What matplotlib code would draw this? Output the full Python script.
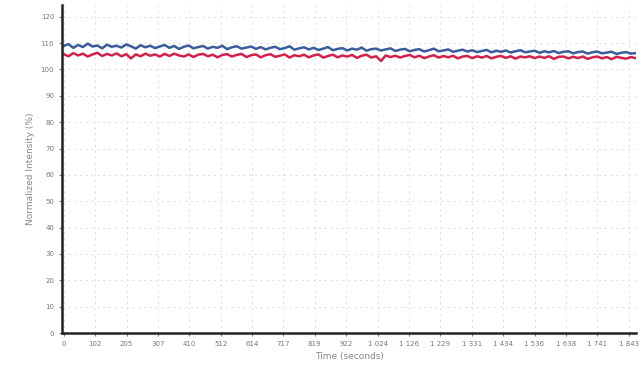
import numpy as np
import matplotlib
matplotlib.use("Agg")
import matplotlib.pyplot as plt

# readings of the two traces (left to right)
blue_vals = [
    108.9, 109.6, 108.2, 109.3, 108.5, 109.8, 108.7, 109.1, 108.0, 109.4,
    108.6, 109.0, 108.3, 109.5, 108.8, 107.9, 109.2, 108.4, 109.0, 108.1,
    108.7, 109.3, 108.2, 108.9, 107.8, 108.6, 109.1, 108.0, 108.5, 108.9,
    107.9, 108.6, 108.2, 109.0, 107.7, 108.4, 108.8, 107.9, 108.3, 108.7,
    107.8, 108.5, 107.6, 108.2, 108.6, 107.7, 108.1, 108.8, 107.5, 108.0,
    108.4, 107.6, 108.2, 107.4, 107.9, 108.5, 107.3, 107.8, 108.1, 107.2,
    107.9, 107.5, 108.3, 107.1, 107.7, 107.9, 107.2, 107.6, 108.0, 107.0,
    107.5, 107.8, 106.9, 107.4, 107.7, 106.8, 107.3, 107.9, 106.9, 107.2,
    107.6, 106.7, 107.1, 107.5, 106.8, 107.3, 106.6, 107.0, 107.4, 106.5,
    107.1, 106.7, 107.2, 106.4, 106.9, 107.3, 106.5, 106.8, 107.1, 106.3,
    106.9, 106.5, 107.0, 106.2, 106.7, 106.9, 106.1, 106.6, 106.8, 106.0,
    106.5, 106.8, 106.1, 106.4, 106.7, 105.9, 106.3, 106.6, 106.0, 106.2]

red_vals = [
    105.8, 105.0, 106.2, 105.3, 106.0, 104.9, 105.7, 106.3, 105.1, 105.9,
    105.3, 106.1, 105.0, 105.8, 104.2, 105.7, 105.0, 106.0, 105.2, 105.7,
    104.9, 105.9, 105.1, 106.0, 105.3, 104.9, 105.7, 104.7, 105.6, 105.9,
    105.0, 105.6, 104.6, 105.5, 105.8, 104.9, 105.5, 105.9, 104.7, 105.4,
    105.7, 104.6, 105.4, 105.8, 104.8, 105.2, 105.7, 104.5, 105.4, 105.0,
    105.6, 104.6, 105.3, 105.7, 104.5, 105.1, 105.6, 104.6, 105.3, 104.9,
    105.5, 104.4, 105.2, 105.6, 104.5, 105.0, 103.2, 105.3, 104.7, 105.2,
    104.5, 105.1, 105.5, 104.6, 105.2, 104.3, 104.9, 105.4, 104.5, 105.1,
    104.6, 105.2, 104.2, 104.9, 105.1, 104.3, 105.0, 104.5, 105.1, 104.2,
    104.8, 105.1, 104.4, 105.0, 104.1, 104.9, 104.6, 105.0, 104.3, 104.9,
    104.4, 105.0, 104.0, 104.8, 104.9, 104.2, 104.8, 104.3, 104.9, 104.0,
    104.6, 104.9, 104.2, 104.7, 103.9, 104.8, 104.4, 104.1, 104.7, 104.3]

x_ticks = [0, 102, 205, 307, 410, 512, 614, 717, 819, 922, 1024,
           1126, 1229, 1331, 1434, 1536, 1638, 1741, 1843]
x_ticklabels = ["0", "102", "205", "307", "410", "512", "614", "717", "819",
                "922", "1 024", "1 126", "1 229", "1 331", "1 434", "1 536",
                "1 638", "1 741", "1 843"]
y_ticks = [0, 10, 20, 30, 40, 50, 60, 70, 80, 90, 100, 110, 120]

t = np.linspace(0, 1866, len(blue_vals))

fig = plt.figure(figsize=(6.44, 3.75), dpi=100)
ax = fig.add_axes([0.096, 0.112, 0.892, 0.875])

ax.plot(t, blue_vals, color='#3b5c9c', lw=1.8)
ax.plot(t, red_vals, color='#d4204c', lw=1.8)

ax.set_xlim(-6, 1868)
ax.set_ylim(0, 124.5)
ax.set_xticks(x_ticks)
ax.set_xticklabels(x_ticklabels)
ax.set_yticks(y_ticks)

ax.grid(True, color='#dcdcdc', linestyle=(0, (2, 4)), linewidth=0.7)
for s in ['top', 'right']:
    ax.spines[s].set_visible(False)
for s in ['left', 'bottom']:
    ax.spines[s].set_linewidth(1.8)
    ax.spines[s].set_color('#222222')
ax.tick_params(labelsize=5, colors='#777777', length=2)

ax.set_xlabel('Time (seconds)', fontsize=6.5, color='#888888')
ax.set_ylabel('Normalized Intensity (%)', fontsize=6.5, color='#888888')

plt.savefig('out.png', dpi=100)
